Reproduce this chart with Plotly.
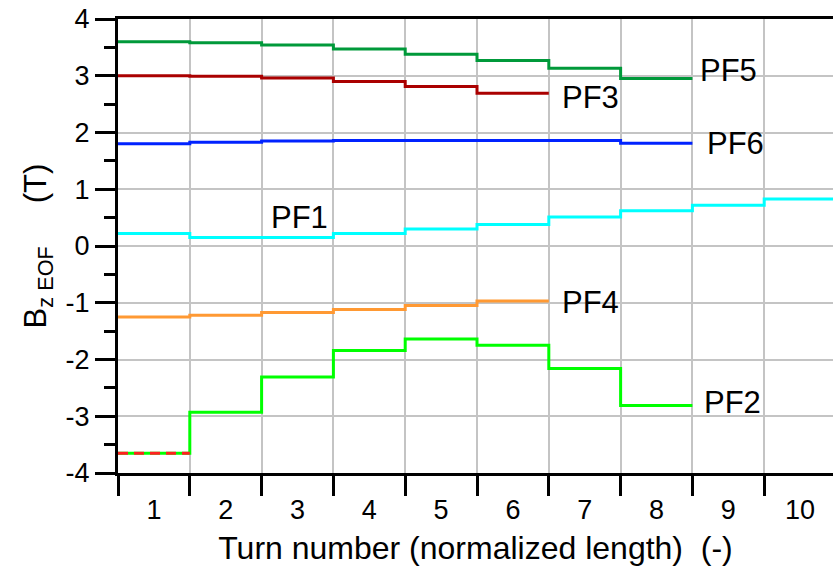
import plotly.graph_objects as go

# Field per turn (T) for each coil, one value per turn
turns = list(range(1, 11))
pf5 = [3.60, 3.58, 3.54, 3.47, 3.38, 3.27, 3.13, 2.95]
pf3 = [3.00, 2.99, 2.96, 2.90, 2.81, 2.69]
pf6 = [1.80, 1.83, 1.85, 1.86, 1.86, 1.86, 1.86, 1.81]
pf1 = [0.22, 0.15, 0.15, 0.22, 0.30, 0.38, 0.51, 0.62, 0.72, 0.83]
pf4 = [-1.25, -1.22, -1.17, -1.12, -1.05, -0.97]
pf2 = [-3.65, -2.93, -2.31, -1.84, -1.64, -1.75, -2.16, -2.81]
pf2_first = pf2[:1]
y_ticks = list(range(-4, 5))
y_ticktext = [str(v) for v in y_ticks]  # plain hyphen-minus

series = [
    ("PF5", pf5, "#00993a"),
    ("PF3", pf3, "#aa0000"),
    ("PF6", pf6, "#0022ff"),
    ("PF1", pf1, "#00ffff"),
    ("PF4", pf4, "#ff9933"),
    ("PF2", pf2, "#00ff00"),
]

# label anchor (left edge x in turns, vertical centre in T)
label_pos = {
    "PF5": (8.08, 3.10),
    "PF3": (6.15, 2.61),
    "PF6": (8.17, 1.81),
    "PF1": (2.10, 0.51),
    "PF4": (6.15, -0.99),
    "PF2": (8.13, -2.75),
}

FONT = "Arial, Liberation Sans, sans-serif"


def steps(vals):
    # each turn occupies [i-1, i]; repeat the last value to close the step
    return list(range(len(vals) + 1)), list(vals) + [vals[-1]]


fig = go.Figure()
for name, vals, color in series:
    x, y = steps(vals)
    fig.add_trace(go.Scatter(x=x, y=y, mode="lines", name=name,
                             line=dict(color=color, width=3, shape="hv")))

# dashed red overlay on the first PF2 turn
x, y = steps(pf2_first)
fig.add_trace(go.Scatter(x=x, y=y, mode="lines", name="PF2 turn 1",
                         line=dict(color="#ff2020", width=3, shape="hv",
                                   dash="10px,6px")))

for name, (lx, ly) in label_pos.items():
    fig.add_annotation(x=lx, y=ly, text=name, showarrow=False,
                       xanchor="left", yanchor="middle",
                       font=dict(family=FONT, size=31, color="black"))

grid = "#c4c4c4"
fig.update_xaxes(
    range=[0, 9.958],
    tickvals=[t - 0.5 for t in turns],
    ticktext=[str(t) for t in turns],
    ticks="", showgrid=False, zeroline=False,
    ticklabelstandoff=11,
    tickfont=dict(family=FONT, size=27, color="black"),
    minor=dict(tickvals=list(range(0, 11)), ticks="outside", ticklen=20,
               tickwidth=3, tickcolor="black",
               showgrid=True, gridcolor=grid, gridwidth=1.5),
    showline=True, linecolor="black", linewidth=3, mirror=True,
    title=dict(text="Turn number (normalized length)&nbsp;&nbsp;(-)",
               font=dict(family=FONT, size=32, color="black"), standoff=18),
)
fig.update_yaxes(
    range=[-4, 4],
    tickvals=y_ticks, ticktext=y_ticktext,
    ticks="outside", ticklen=20, tickwidth=3, tickcolor="black",
    showgrid=True, gridcolor=grid, gridwidth=1.5, zeroline=False,
    tickfont=dict(family=FONT, size=27, color="black"),
    minor=dict(dtick=0.5, tick0=0, ticks="outside", ticklen=11,
               tickwidth=3, tickcolor="black", showgrid=False),
    showline=True, linecolor="black", linewidth=3,
    title=dict(text="B<sub>z EOF</sub>&nbsp;&nbsp;&nbsp;&nbsp;&nbsp;(T)",
               font=dict(family=FONT, size=31, color="black"), standoff=10),
)
fig.update_layout(
    width=833, height=566,
    margin=dict(l=118, r=0, t=19, b=93),
    paper_bgcolor="white", plot_bgcolor="white",
    showlegend=False,
)
fig.write_html("out.html")
